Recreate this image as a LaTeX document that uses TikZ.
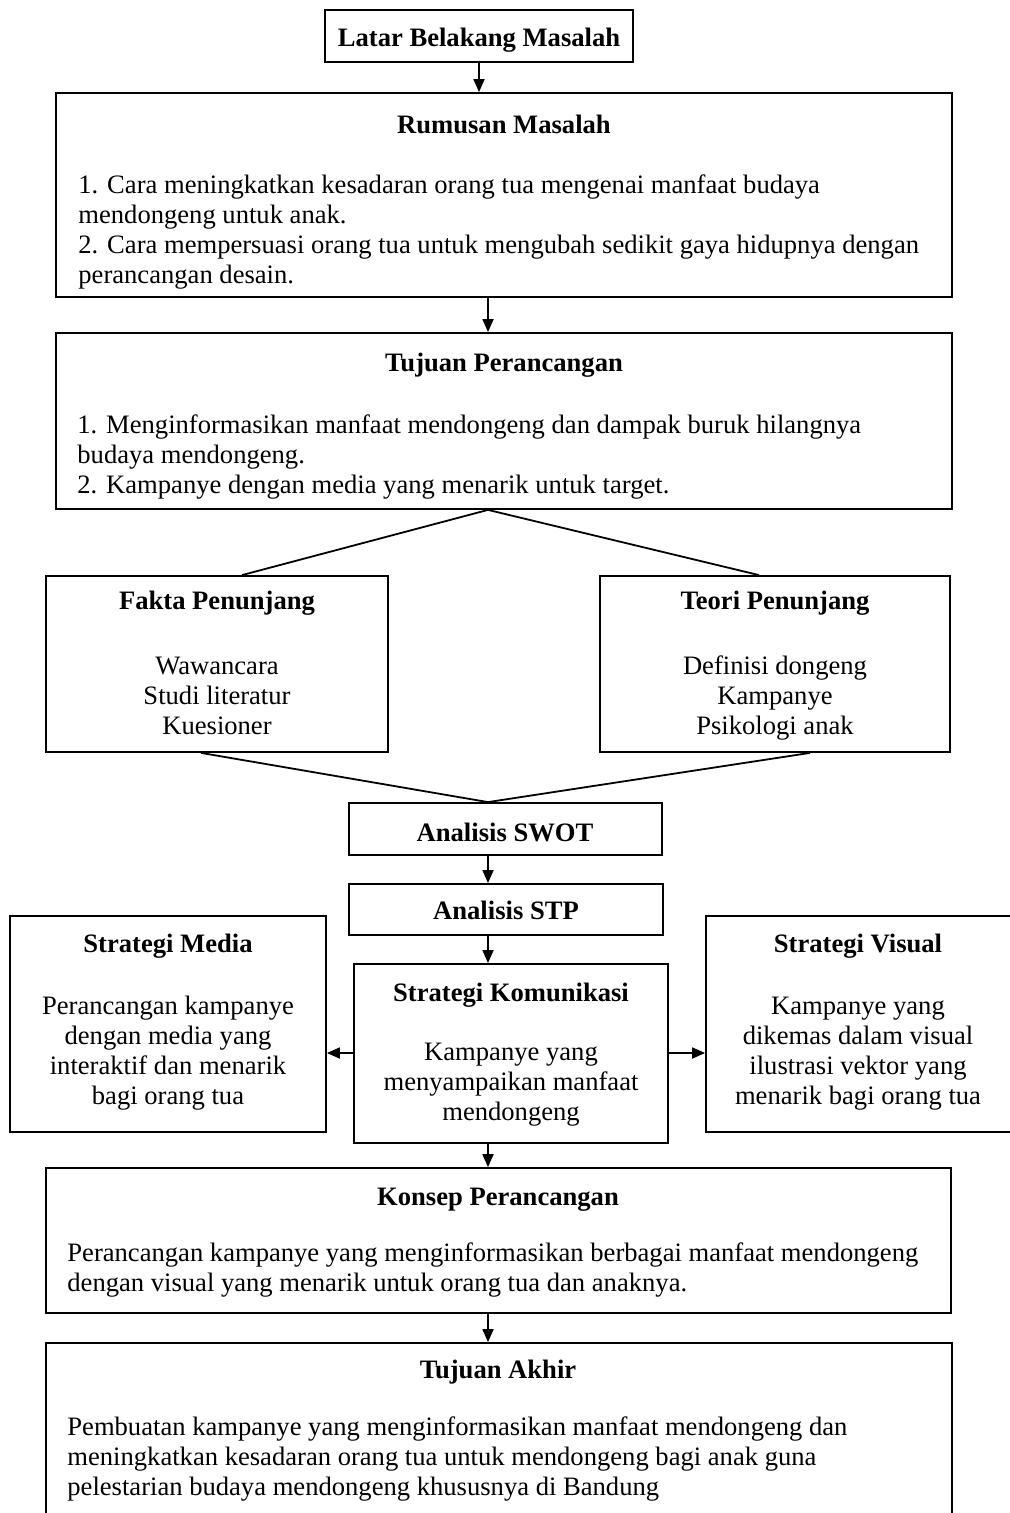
\documentclass[tikz,border=0pt]{standalone}
\usepackage{fontspec}
\setmainfont{Liberation Serif}
\usetikzlibrary{arrows.meta,fit}
\begin{document}
\begin{tikzpicture}[x=0.5pt,y=-0.5pt,
  box/.style={draw, line width=0.9pt, inner sep=0pt},
  ttl/.style={font=\bfseries\fontsize{13.3}{15}\selectfont, inner sep=0pt, text depth=0pt},
  ltxt/.style={font=\fontsize{13.3}{15}\selectfont, inner sep=0pt, align=left, anchor=west},
  ctxt/.style={font=\fontsize{13.3}{15}\selectfont, inner sep=0pt, align=center},
  arr/.style={-{Triangle[length=6.5pt,width=5.5pt]}, line width=0.9pt},
  ln/.style={line width=0.9pt}]
\useasboundingbox (0,0) rectangle (1009,1513);
\fill[white] (0,0) rectangle (1009,1513);
\coordinate (spine) at (488,0);
\coordinate (fl) at (242,0);
\coordinate (tr) at (759,0);
\coordinate (fb) at (201,0);
\coordinate (tb) at (810,0);
\coordinate (mid) at (0,1053);

% boxes
\node[box, fit={(325,10) (633,62)}] (latar) {};
\node[box, fit={(56,93) (952,297)}] (rumusan) {};
\node[box, fit={(56,333) (952,509)}] (tujuan) {};
\node[box, fit={(46,576) (388,752)}] (fakta) {};
\node[box, fit={(600,576) (950,752)}] (teori) {};
\node[box, fit={(349,803) (662,855)}] (swot) {};
\node[box, fit={(349,884) (663,935)}] (stp) {};
\node[box, fit={(10,916) (326,1132)}] (media) {};
\node[box, fit={(354,964) (668,1143)}] (kom) {};
\node[box, fit={(706,916) (1020,1132)}] (visual) {};
\node[box, fit={(46,1168) (951,1313)}] (konsep) {};
\node[box, fit={(46,1343) (952,1525)}] (akhir) {};

% texts
\node[ttl] (t1) at (479,37) {Latar Belakang Masalah};

\node[ttl] (t2) at (504,124) {Rumusan Masalah};
\node[ltxt] (b2) at (78,232.5) {1. Cara meningkatkan kesadaran orang tua mengenai manfaat budaya\\mendongeng untuk anak.\\2. Cara mempersuasi orang tua untuk mengubah sedikit gaya hidupnya dengan\\perancangan desain.};

\node[ttl] (t3) at (504,362) {Tujuan Perancangan};
\node[ltxt] (b3) at (77,457) {1. Menginformasikan manfaat mendongeng dan dampak buruk hilangnya\\budaya mendongeng.\\2. Kampanye dengan media yang menarik untuk target.};

\node[ttl] (t4) at (217,600) {Fakta Penunjang};
\node[ctxt] (b4) at (217,696) {Wawancara\\Studi literatur\\Kuesioner};

\node[ttl] (t5) at (775,600) {Teori Penunjang};
\node[ctxt] (b5) at (775,698) {Definisi dongeng\\Kampanye\\Psikologi anak};

\node[ttl] (t6) at (505,832) {Analisis SWOT};
\node[ttl] (t7) at (506,910) {Analisis STP};

\node[ttl] (t8) at (168,943) {Strategi Media};
\node[ctxt] (b8) at (168,1053.5) {Perancangan kampanye\\dengan media yang\\interaktif dan menarik\\bagi orang tua};

\node[ttl] (t9) at (511,992) {Strategi Komunikasi};
\node[ctxt] (b9) at (511,1085) {Kampanye yang\\menyampaikan manfaat\\mendongeng};

\node[ttl] (t10) at (858,943) {Strategi Visual};
\node[ctxt] (b10) at (858,1053.5) {Kampanye yang\\dikemas dalam visual\\ilustrasi vektor yang\\menarik bagi orang tua};

\node[ttl] (t11) at (498,1197) {Konsep Perancangan};
\node[ltxt] (b11) at (67,1270) {Perancangan kampanye yang menginformasikan berbagai manfaat mendongeng\\dengan visual yang menarik untuk orang tua dan anaknya.};

\node[ttl] (t12) at (498,1369) {Tujuan Akhir};
\node[ltxt] (b12) at (67,1459) {Pembuatan kampanye yang menginformasikan manfaat mendongeng dan\\meningkatkan kesadaran orang tua untuk mendongeng bagi anak guna\\pelestarian budaya mendongeng khususnya di Bandung};

% connectors
\draw[arr] (latar.south) -- (latar.south |- rumusan.north);
\draw[arr] (rumusan.south -| spine) -- (tujuan.north -| spine);
\draw[ln] (tujuan.south -| spine) -- (fakta.north -| fl);
\draw[ln] (tujuan.south -| spine) -- (teori.north -| tr);
\draw[ln] (fakta.south -| fb) -- (swot.north -| spine);
\draw[ln] (teori.south -| tb) -- (swot.north -| spine);
\draw[arr] (swot.south -| spine) -- (stp.north -| spine);
\draw[arr] (stp.south -| spine) -- (kom.north -| spine);
\draw[arr] (kom.west |- mid) -- (media.east |- mid);
\draw[arr] (kom.east |- mid) -- (visual.west |- mid);
\draw[arr] (kom.south -| spine) -- (konsep.north -| spine);
\draw[arr] (konsep.south -| spine) -- (akhir.north -| spine);
\end{tikzpicture}
\end{document}
